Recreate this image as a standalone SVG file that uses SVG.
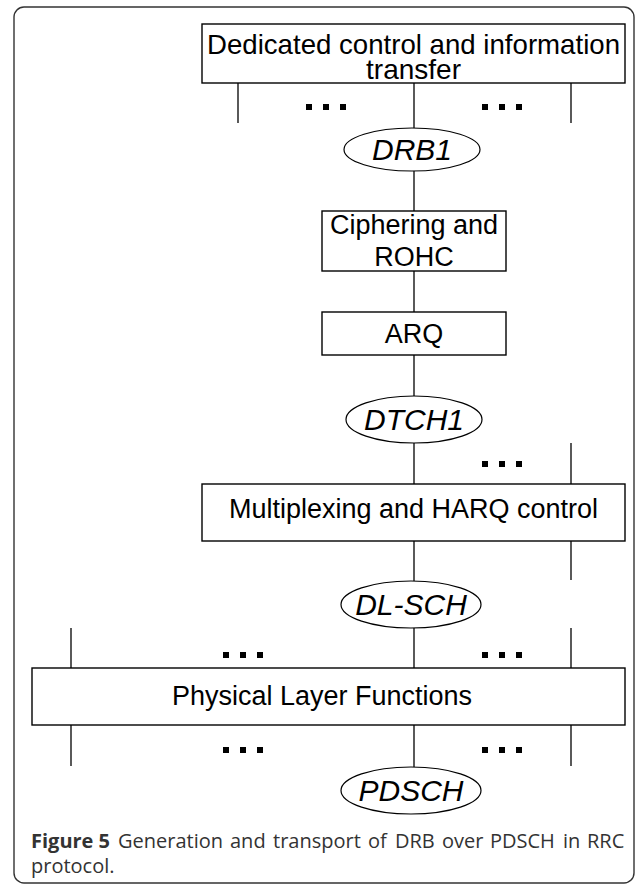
<svg xmlns="http://www.w3.org/2000/svg" width="635" height="886" viewBox="0 0 635 886">
<style>
.box{fill:#fff;stroke:#000;stroke-width:1.4}
.ell{fill:#fff;stroke:#000;stroke-width:1.2}
.ln{stroke:#000;stroke-width:1.3;fill:none}
.t{font-family:"Liberation Sans",Arial,sans-serif;font-size:27px;fill:#000;text-anchor:middle}
.td{font-family:"Liberation Sans",Arial,sans-serif;font-size:28px;fill:#000;text-anchor:middle}
.ti{font-family:"Liberation Sans",Arial,sans-serif;font-size:30px;font-style:italic;fill:#000;text-anchor:middle}
.cap{font-family:"Open Sans","Noto Sans",sans-serif;font-size:20px;fill:#333}
.dot{fill:#000}
</style>
<defs>
<g id="dots"><rect x="0" y="0" width="6" height="6"/><rect x="17" y="0" width="6" height="6"/><rect x="34" y="0" width="6" height="6"/></g>
</defs>
<rect x="14" y="7" width="620" height="876" rx="10" fill="#fff" stroke="#333" stroke-width="1.4"/>
<g id="connectors">
<line class="ln" x1="238" y1="83" x2="238" y2="123"/>
<line class="ln" x1="414" y1="83" x2="414" y2="128"/>
<line class="ln" x1="571" y1="83" x2="571" y2="123"/>
<line class="ln" x1="414" y1="171" x2="414" y2="211"/>
<line class="ln" x1="414" y1="271" x2="414" y2="312"/>
<line class="ln" x1="414" y1="355" x2="414" y2="396"/>
<line class="ln" x1="414" y1="443" x2="414" y2="484"/>
<line class="ln" x1="571" y1="443" x2="571" y2="484"/>
<line class="ln" x1="414" y1="541" x2="414" y2="581"/>
<line class="ln" x1="571" y1="541" x2="571" y2="580"/>
<line class="ln" x1="71" y1="628" x2="71" y2="668"/>
<line class="ln" x1="414" y1="628" x2="414" y2="668"/>
<line class="ln" x1="571" y1="628" x2="571" y2="668"/>
<line class="ln" x1="71" y1="725" x2="71" y2="766"/>
<line class="ln" x1="414" y1="725" x2="414" y2="767"/>
<line class="ln" x1="571" y1="725" x2="571" y2="766"/>
<g class="dot">
<use href="#dots" x="306" y="104"/>
<use href="#dots" x="482" y="104"/>
<use href="#dots" x="482" y="461"/>
<use href="#dots" x="223" y="652"/>
<use href="#dots" x="482" y="652"/>
<use href="#dots" x="223" y="747"/>
<use href="#dots" x="482" y="747"/>
</g>
</g>
<g id="dedicated">
<rect class="box" x="202" y="24" width="423" height="59"/>
<text class="td" x="413.5" y="54" textLength="413" lengthAdjust="spacingAndGlyphs">Dedicated control and information</text>
<text class="td" x="413.5" y="79">transfer</text>
</g>
<g id="drb1">
<ellipse class="ell" cx="412" cy="149.5" rx="68" ry="21.5"/>
<text class="ti" x="412" y="160">DRB1</text>
</g>
<g id="ciphering">
<rect class="box" x="322" y="211" width="184" height="60"/>
<text class="t" x="414" y="234">Ciphering and</text>
<text class="t" x="414" y="266">ROHC</text>
</g>
<g id="arq">
<rect class="box" x="322" y="312" width="184" height="43"/>
<text class="t" x="414" y="343">ARQ</text>
</g>
<g id="dtch1">
<ellipse class="ell" cx="414" cy="419.5" rx="68" ry="23.5"/>
<text class="ti" x="414" y="430">DTCH1</text>
</g>
<g id="multiplexing">
<rect class="box" x="202" y="484" width="423" height="57"/>
<text class="t" x="413.5" y="518">Multiplexing and HARQ control</text>
</g>
<g id="dlsch">
<ellipse class="ell" cx="411" cy="604.5" rx="70" ry="23.5"/>
<text class="ti" x="411" y="615">DL-SCH</text>
</g>
<g id="physical">
<rect class="box" x="32" y="668" width="593" height="57"/>
<text class="t" x="322" y="705">Physical Layer Functions</text>
</g>
<g id="pdsch">
<ellipse class="ell" cx="411" cy="790.5" rx="70" ry="23.5"/>
<text class="ti" x="411" y="801">PDSCH</text>
</g>
<g id="caption">
<text class="cap" y="848"><tspan x="31" font-weight="bold">Figure 5</tspan><tspan x="118">Generation</tspan><tspan x="230">and</tspan><tspan x="273">transport</tspan><tspan x="368">of</tspan><tspan x="395">DRB</tspan><tspan x="442">over</tspan><tspan x="490">PDSCH</tspan><tspan x="563">in</tspan><tspan x="587">RRC</tspan></text>
<text class="cap" x="31" y="873">protocol.</text>
</g>
</svg>
